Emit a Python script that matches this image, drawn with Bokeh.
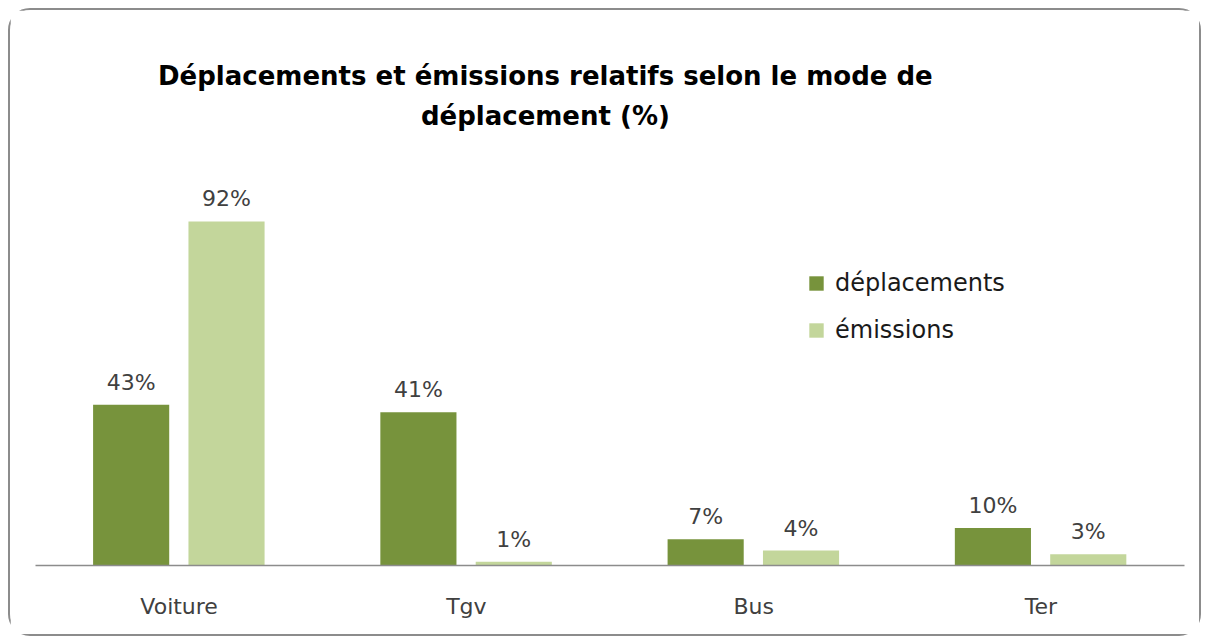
from bokeh.plotting import figure
from bokeh.models import ColumnDataSource, FactorRange, Range1d, Label, Legend, LegendItem
from bokeh.transform import dodge
from bokeh.embed import file_html
from bokeh.resources import INLINE

categories = ["Voiture", "Tgv", "Bus", "Ter"]
deplacements = [43, 41, 7, 10]
emissions = [92, 1, 4, 3]
series_names = ["déplacements", "émissions"]
title_lines = ["Déplacements et émissions relatifs selon le mode de", "déplacement (%)"]

DARK = "#77933C"
LIGHT = "#C3D69B"
FONT = "DejaVu Sans"

src = ColumnDataSource(dict(
    cat=categories,
    dep=deplacements,
    emi=emissions,
    dep_lbl=[f"{v}%" for v in deplacements],
    emi_lbl=[f"{v}%" for v in emissions],
))

p = figure(
    width=1193, height=628,
    x_range=FactorRange(*categories, range_padding=0),
    y_range=Range1d(0, 146.26),
    output_backend="svg", toolbar_location=None,
    y_axis_location=None,
    min_border_left=25, min_border_right=19, min_border_top=8, min_border_bottom=73,
)
p.styles = {"border": "2px solid #8c8c8c", "border-radius": "22px", "background": "white",
            "margin-left": "8px", "margin-top": "8px"}
p.outline_line_color = None
p.xgrid.visible = False
p.ygrid.visible = False

r1 = p.vbar(x=dodge("cat", -0.167, range=p.x_range), top="dep", width=0.265,
            source=src, fill_color=DARK, line_color=None)
r2 = p.vbar(x=dodge("cat", 0.165, range=p.x_range), top="emi", width=0.265,
            source=src, fill_color=LIGHT, line_color=None)

p.text(x=dodge("cat", -0.167, range=p.x_range), y="dep", text="dep_lbl", source=src,
       text_align="center", text_baseline="bottom", y_offset=-10,
       text_font_size="22px", text_color="#404040", text_font={"value": FONT})
p.text(x=dodge("cat", 0.165, range=p.x_range), y="emi", text="emi_lbl", source=src,
       text_align="center", text_baseline="bottom", y_offset=-10,
       text_font_size="22px", text_color="#404040", text_font={"value": FONT})

ax = p.xaxis[0]
ax.axis_line_color = "#8c8c8c"
ax.axis_line_width = 1.5
ax.major_tick_line_color = None
ax.minor_tick_line_color = None
ax.major_label_text_font_size = "22px"
ax.major_label_text_color = "#404040"
ax.major_label_text_font = FONT
ax.major_label_standoff = 22

for txt, yv in zip(title_lines, [130.8, 120.3]):
    p.add_layout(Label(x=1.775, y=yv, text=txt,
                       text_align="center", text_baseline="middle",
                       text_font=FONT, text_font_style="bold", text_font_size="26px",
                       text_color="#000000"))

legend = Legend(items=[LegendItem(label=series_names[0], renderers=[r1]),
                       LegendItem(label=series_names[1], renderers=[r2])],
                location=(772, 221))
legend.label_text_font = FONT
legend.label_text_font_size = "24px"
legend.label_text_color = "#1a1a1a"
legend.glyph_width = 18
legend.glyph_height = 18
legend.label_standoff = 10
legend.spacing = 19
legend.padding = 0
legend.margin = 0
legend.label_height = 26
legend.background_fill_alpha = 0
legend.border_line_alpha = 0
p.add_layout(legend, "center")

open("out.html", "w").write(file_html(p, INLINE))
